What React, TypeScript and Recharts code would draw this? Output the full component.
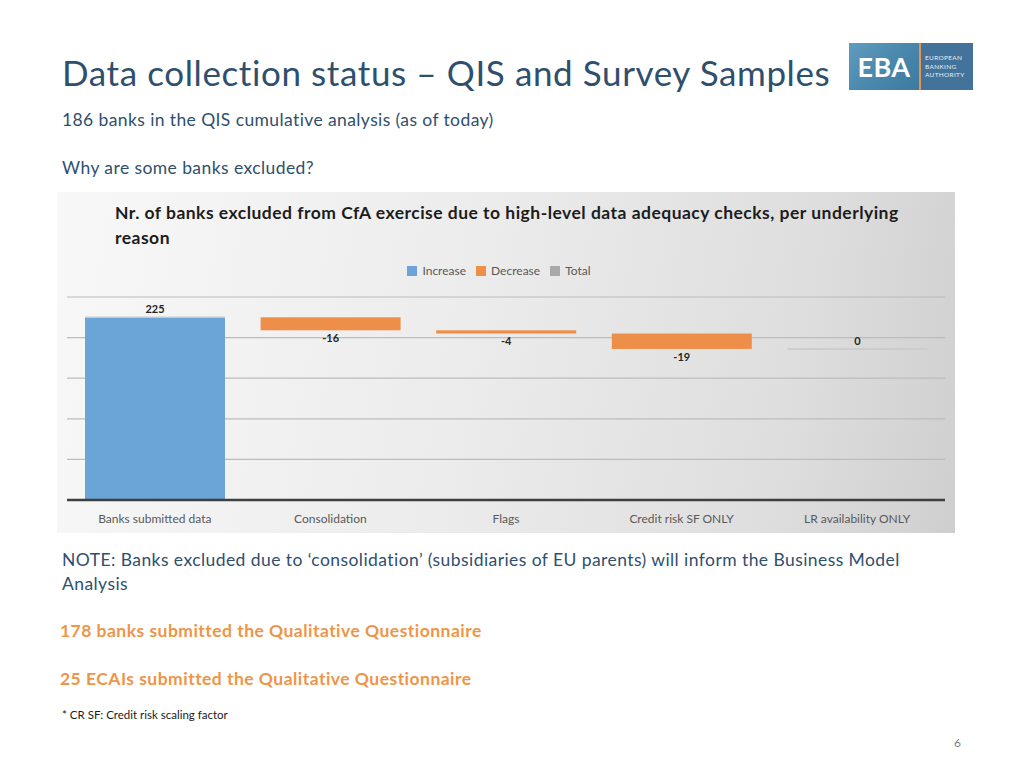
import { Bar, BarChart, CartesianGrid, LabelList, Legend, XAxis, YAxis } from "recharts";

const categories = [
  "Banks submitted data",
  "Consolidation",
  "Flags",
  "Credit risk SF ONLY",
  "LR availability ONLY",
];
const changes = [225, -16, -4, -19, 0];
const totals = [0, 0, 0, 0, 0];
const yTicks = [0, 50, 100, 150, 200, 250];
const legendOrder = ["Increase", "Decrease", "Total"];

const FONT = "Lato, 'Open Sans', sans-serif";
const SLATE = "#2f4f6e";
const ORANGE = "#ee9547";

let running = 0;
const rows = categories.map((name, i) => {
  const c = changes[i];
  const prev = running;
  running += c;
  return {
    name,
    base: Math.min(prev, running),
    increase: c > 0 ? c : 0,
    decrease: c < 0 ? -c : 0,
    total: totals[i],
    change: c,
  };
});

const DecShape = (p: any) => {
  if (p.height > 0) return <rect x={p.x} y={p.y} width={p.width} height={p.height} fill={p.fill} />;
  return <line x1={p.x} x2={p.x + p.width} y1={p.y} y2={p.y} stroke="#c9c9c9" strokeWidth={1.5} />;
};

const incLabel = (p: any) => {
  if (rows[p.index].increase <= 0) return null;
  return (
    <text x={p.x + p.width / 2} y={p.y - 7} textAnchor="middle" dominantBaseline="middle" fontSize={11} fontWeight={700} fill="#262626">
      {p.value}
    </text>
  );
};

const decLabel = (p: any) => {
  const c = rows[p.index].change;
  if (c > 0) return null;
  const y = c < 0 ? p.y + p.height + 9 : p.y - 7;
  return (
    <text x={p.x + p.width / 2} y={y} textAnchor="middle" dominantBaseline="middle" fontSize={11} fontWeight={700} fill="#262626">
      {p.value}
    </text>
  );
};

function Logo() {
  return (
    <div style={{ position: "absolute", left: 849, top: 43, width: 124, height: 47, display: "flex" }}>
      <div
        style={{
          width: 70,
          height: 47,
          background: "linear-gradient(135deg, #5f9cc0 0%, #4a88ad 50%, #3f7aa0 100%)",
          color: "#fff",
          fontFamily: FONT,
          fontWeight: 700,
          fontSize: 27,
          lineHeight: "47px",
          textAlign: "center",
          letterSpacing: 0.5,
        }}
      >
        EBA
      </div>
      <div style={{ width: 2, height: 47, background: "#e8954c" }} />
      <div
        style={{
          flex: 1,
          background: "#43739a",
          color: "#e6eef5",
          fontFamily: FONT,
          fontSize: 6.5,
          lineHeight: "8.5px",
          paddingLeft: 4,
          paddingTop: 11,
          letterSpacing: 0.3,
        }}
      >
        EUROPEAN
        <br />
        BANKING
        <br />
        AUTHORITY
      </div>
    </div>
  );
}

function Txt(props: { x: number; cy: number; size: number; color: string; bold?: boolean; ls?: number; children: any }) {
  const lh = Math.round(props.size * 1.4);
  return (
    <div
      style={{
        position: "absolute",
        left: props.x,
        top: props.cy - lh / 2,
        fontFamily: FONT,
        fontSize: props.size,
        lineHeight: lh + "px",
        letterSpacing: props.ls ?? 0,
        color: props.color,
        fontWeight: props.bold ? 700 : 400,
        whiteSpace: "nowrap",
      }}
    >
      {props.children}
    </div>
  );
}

export default function App() {
  return (
    <div style={{ position: "fixed", left: 0, top: 0, width: 1024, height: 768, background: "#fff", overflow: "hidden" }}>
      <Txt x={62} cy={72} size={35} ls={0.6} color={SLATE}>
        Data collection status – QIS and Survey Samples
      </Txt>
      <Logo />
      <Txt x={62} cy={119} size={17.5} ls={0.4} color={SLATE}>
        186 banks in the QIS cumulative analysis (as of today)
      </Txt>
      <Txt x={62} cy={167} size={17.5} ls={0.42} color={SLATE}>
        Why are some banks excluded?
      </Txt>

      <div
        style={{
          position: "absolute",
          left: 57,
          top: 192,
          width: 898,
          height: 341,
          background: "linear-gradient(100deg, #f8f8f8 0%, #ececec 45%, #dedede 80%, #cfcfcf 100%)",
        }}
      >
        <div
          style={{
            position: "absolute",
            left: 58,
            top: 8,
            fontFamily: FONT,
            fontWeight: 700,
            fontSize: 17.5,
            letterSpacing: 0.48,
            lineHeight: "25px",
            color: "#1c1c1c",
            whiteSpace: "nowrap",
          }}
        >
          Nr. of banks excluded from CfA exercise due to high-level data adequacy checks, per underlying
          <br />
          reason
        </div>
        <BarChart
          width={898}
          height={341}
          data={rows}
          margin={{ top: 105, right: 10, bottom: 0, left: 10 }}
          style={{ fontFamily: FONT }}
        >
          <CartesianGrid vertical={false} stroke="#bcbcbc" strokeWidth={1.2} />
          <XAxis
            dataKey="name"
            height={33}
            interval={0}
            tickLine={false}
            tickMargin={8}
            axisLine={{ stroke: "#3f3f3f", strokeWidth: 2.5 }}
            tick={{ fill: "#595959", fontSize: 12 }}
          />
          <YAxis hide domain={[0, 250]} ticks={yTicks} />
          <Legend
            layout="horizontal"
            verticalAlign="middle"
            align="center"
            iconType="square"
            iconSize={10}
            itemSorter={(item: any) => legendOrder.indexOf(item.value)}
            wrapperStyle={{ top: 67, left: 8 }}
            formatter={(v: any) => (
              <span style={{ color: "#595959", fontSize: 12, marginLeft: 1 }}>{v}</span>
            )}
          />
          <Bar dataKey="base" stackId="a" fill="transparent" legendType="none" barSize={140} isAnimationActive={false} />
          <Bar dataKey="increase" name="Increase" stackId="a" fill="#6ba4d6" barSize={140} isAnimationActive={false}>
            <LabelList dataKey="change" content={incLabel} />
          </Bar>
          <Bar dataKey="decrease" name="Decrease" stackId="a" fill="#ee8f49" barSize={140} shape={DecShape} isAnimationActive={false}>
            <LabelList dataKey="change" content={decLabel} />
          </Bar>
          <Bar dataKey="total" name="Total" stackId="a" fill="#a9a9a9" barSize={140} isAnimationActive={false} />
        </BarChart>
      </div>

      <Txt x={62} cy={559} size={17.5} ls={0.43} color={SLATE}>
        NOTE: Banks excluded due to ‘consolidation’ (subsidiaries of EU parents) will inform the Business Model
      </Txt>
      <Txt x={62} cy={583} size={17.5} ls={0.43} color={SLATE}>
        Analysis
      </Txt>
      <Txt x={60} cy={630} size={17.5} ls={0.47} color={ORANGE} bold>
        178 banks submitted the Qualitative Questionnaire
      </Txt>
      <Txt x={60} cy={678} size={17.5} ls={0.47} color={ORANGE} bold>
        25 ECAIs submitted the Qualitative Questionnaire
      </Txt>
      <Txt x={62} cy={715} size={11.5} color="#1a1a1a">
        * CR SF: Credit risk scaling factor
      </Txt>
      <Txt x={954} cy={742} size={12} color="#7f7f7f">
        6
      </Txt>
    </div>
  );
}
